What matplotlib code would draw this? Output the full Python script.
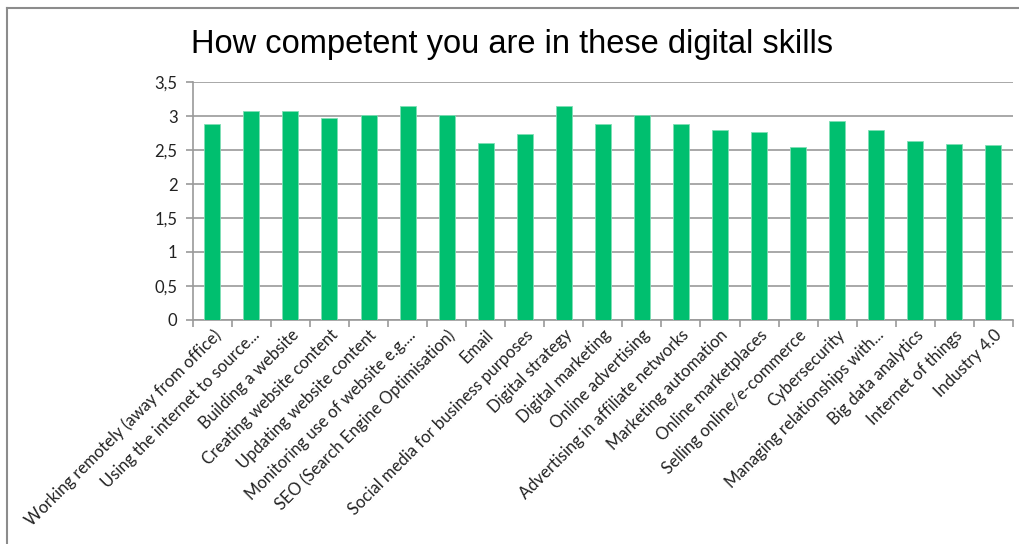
import numpy as np
import matplotlib
matplotlib.use('Agg')
import matplotlib.pyplot as plt
from matplotlib.lines import Line2D
from matplotlib.ticker import FuncFormatter, FixedLocator

skills = [
    'Working remotely (away from office)', 'Using the internet to source...',
    'Building a website', 'Creating website content', 'Updating website content',
    'Monitoring use of website e.g....', 'SEO (Search Engine Optimisation)', 'Email',
    'Social media for business purposes', 'Digital strategy', 'Digital marketing',
    'Online advertising', 'Advertising in affiliate networks', 'Marketing automation',
    'Online marketplaces', 'Selling online/e-commerce', 'Cybersecurity',
    'Managing relationships with...', 'Big data analytics', 'Internet of things',
    'Industry 4.0',
]
scores = [2.89, 3.07, 3.07, 2.97, 3.01, 3.15, 3.01, 2.61, 2.73, 3.15, 2.89,
          3.01, 2.89, 2.79, 2.77, 2.55, 2.93, 2.79, 2.63, 2.59, 2.57]
y_ticks = [0, 0.5, 1, 1.5, 2, 2.5, 3, 3.5]

bar_color = '#00BF6F'
grid_color = '#9a9a9a'
label_font = ['Lato', 'DejaVu Sans']

fig = plt.figure(figsize=(10.2, 5.44), dpi=100)
ax = fig.add_axes([0.189, 0.412, 0.804, 0.437])

x = np.arange(len(skills))
ax.bar(x, scores, width=0.41, color=bar_color, edgecolor='#7fdfb5', linewidth=0.6, zorder=3)

ax.set_xlim(-0.5, len(skills) - 0.5)
ax.set_ylim(0, 3.5)
ax.yaxis.set_major_locator(FixedLocator(y_ticks))
ax.yaxis.set_major_formatter(FuncFormatter(lambda v, _: f'{v:g}'.replace('.', ',')))
ax.grid(True, axis='y', color=grid_color, linewidth=1.2, zorder=0)

for side in ['top', 'right']:
    ax.spines[side].set_visible(False)
for side in ['left', 'bottom']:
    ax.spines[side].set_color(grid_color)
    ax.spines[side].set_linewidth(1.2)

# category boundaries get the x ticks, labels sit under the bar centres
ax.set_xticks(np.arange(len(skills) + 1) - 0.5)
ax.set_xticklabels([])
ax.set_xticks(x, minor=True)
ax.set_xticklabels(skills, minor=True, rotation=45, ha='right', va='top',
                   rotation_mode='anchor', fontsize=12, color='#222222', family=label_font)
ax.tick_params(axis='x', which='major', length=5, color=grid_color, width=1.2, direction='out')
ax.tick_params(axis='x', which='minor', length=0, pad=5)
ax.tick_params(axis='y', length=5, color=grid_color, width=1.2, pad=6,
               labelsize=12, labelcolor='#222222')
for lbl in ax.get_yticklabels():
    lbl.set_family(label_font)

fig.text(0.187, 0.903, 'How competent you are in these digital skills', fontsize=23.5,
         family=['Liberation Sans', 'DejaVu Sans'],
         color='black', ha='left', va='baseline')

# outer frame on the top and left edges
fig.add_artist(Line2D([0.007, 1.0], [0.986, 0.986], transform=fig.transFigure,
                      color='#8c8c8c', linewidth=1.5))
fig.add_artist(Line2D([0.007, 0.007], [0.0, 0.986], transform=fig.transFigure,
                      color='#8c8c8c', linewidth=1.5))

fig.savefig('out.png', dpi=100, facecolor='white')
